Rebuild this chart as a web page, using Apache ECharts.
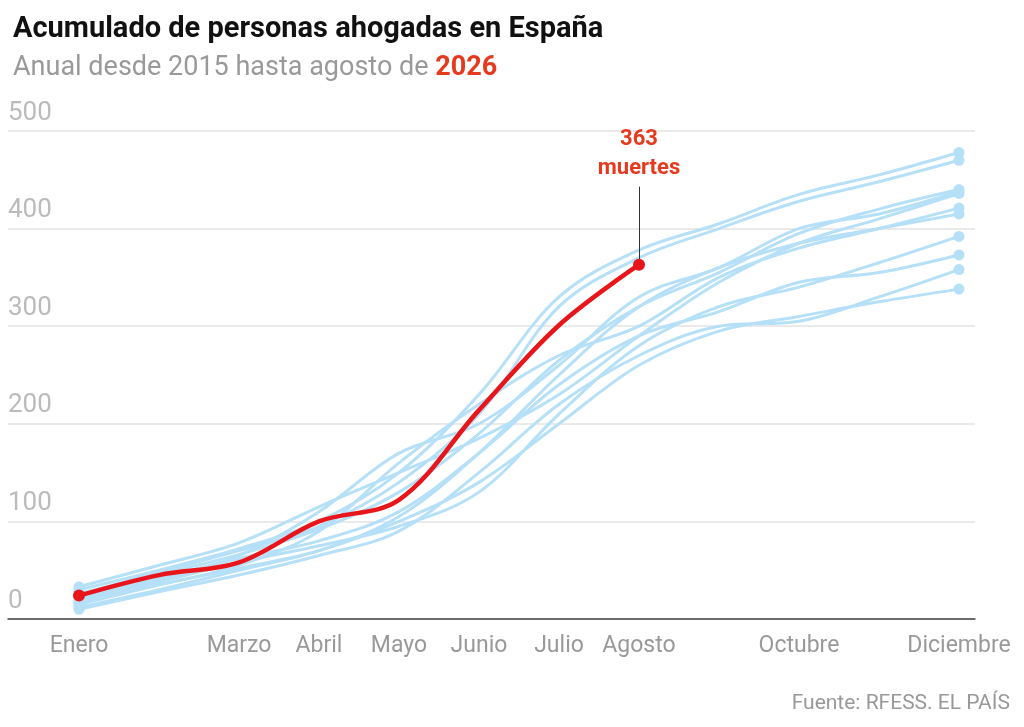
<!DOCTYPE html>
<html><head><meta charset="utf-8">
<script src="https://cdn.jsdelivr.net/npm/echarts@6/dist/echarts.min.js"></script>
<style>html,body{margin:0;padding:0;background:#fff}#c{width:1024px;height:727px}</style>
</head><body><div id="c"></div>
<script>
const months = ['Enero','Febrero','Marzo','Abril','Mayo','Junio','Julio','Agosto','Septiembre','Octubre','Noviembre','Diciembre'];
const shownMonths = [0,2,3,4,5,6,7,9,11];
const yTicks = [0,100,200,300,400,500];
const y2015 = [30,50,72,100,150,230,330,378,405,435,455,478];
const y2016 = [25,48,70,95,140,210,320,370,400,428,448,470];
const y2017 = [20,40,65,110,170,200,260,330,360,400,415,438];
const y2018 = [15,35,55,90,160,220,270,300,350,380,400,421];
const y2019 = [12,30,50,70,105,170,250,320,360,385,400,415];
const y2020 = [18,38,58,75,95,130,210,280,320,340,365,392];
const y2021 = [22,42,62,80,110,170,240,290,315,345,355,373];
const y2022 = [10,28,45,65,90,150,220,270,300,305,330,358];
const y2023 = [16,35,52,70,100,140,200,260,295,310,325,338];
const y2024 = [33,55,78,115,150,185,230,290,345,385,410,436];
const y2025 = [26,46,66,92,130,190,265,320,355,395,420,440];
const y2026 = [24,45,58,100,122,214,301,363];
const pastYears = [y2015,y2016,y2017,y2018,y2019,y2020,y2021,y2022,y2023,y2024,y2025];

const pts = a => a.map((v,i)=>[i,v]);
const series = pastYears.map(a=>({
  type:'line', smooth:0.35, data:pts(a), symbol:'circle', symbolSize:(v,p)=>(p.dataIndex===0||p.dataIndex===a.length-1)?11:0,
  showAllSymbol:true, lineStyle:{color:'#b5e0f7',width:3}, itemStyle:{color:'#b5e0f7'}, z:2, silent:true
}));
series.push({
  type:'line', smooth:0.35, data:pts(y2026), symbol:'circle',
  symbolSize:(v,p)=>(p.dataIndex===0||p.dataIndex===y2026.length-1)?12:0, showAllSymbol:true,
  lineStyle:{color:'#e8151b',width:4.5}, itemStyle:{color:'#e8151b'}, z:5,
  markLine:{symbol:'none', silent:true, lineStyle:{color:'#333',width:1,type:'solid'},
    label:{show:true, position:'end', formatter:'363\nmuertes', color:'#e63a1e', fontWeight:'bold', fontSize:22, lineHeight:29, fontFamily:'Roboto', distance:4},
    data:[[{coord:[7,363]},{coord:[7,443]}]]}
});

const chart = echarts.init(document.getElementById('c'));
chart.setOption({
  animation:false,
  textStyle:{fontFamily:'Roboto'},
  title:[
    {text:'Acumulado de personas ahogadas en España', left:8, top:10, textStyle:{fontSize:29, fontWeight:'bold', color:'#111', fontFamily:'Roboto'}},
    {text:'{a|Anual desde 2015 hasta agosto de }{b|2026}', left:8, top:50,
     textStyle:{fontWeight:'normal', rich:{a:{fontSize:27,color:'#999',fontWeight:'normal',fontFamily:'Roboto'},b:{fontSize:27,color:'#e63a1e',fontWeight:'bold',fontFamily:'Roboto'}}}},
    {text:'Fuente: RFESS. EL PAÍS', right:9, top:688, textStyle:{fontSize:21,color:'#999',fontWeight:'normal',fontFamily:'Roboto'}}
  ],
  grid:{left:8, right:49, top:131, bottom:108},
  xAxis:{type:'value', min:-0.8875, max:11.2, 
    axisLine:{show:true, onZero:false, lineStyle:{color:'#444',width:1.5}},
    axisTick:{show:false}, splitLine:{show:false},
    axisLabel:{customValues:shownMonths, formatter:v=>months[Math.round(v)], color:'#999', fontSize:23, margin:16}},
  yAxis:{type:'value', min:0, max:500, interval:100,
    axisLine:{show:false}, axisTick:{show:false},
    splitLine:{lineStyle:{color:'#e3e3e3',width:1.5}},
    axisLabel:{inside:true, margin:0, verticalAlign:'bottom', padding:[0,0,5,0], color:'#bbb', fontSize:26}},
  series
});
</script></body></html>
